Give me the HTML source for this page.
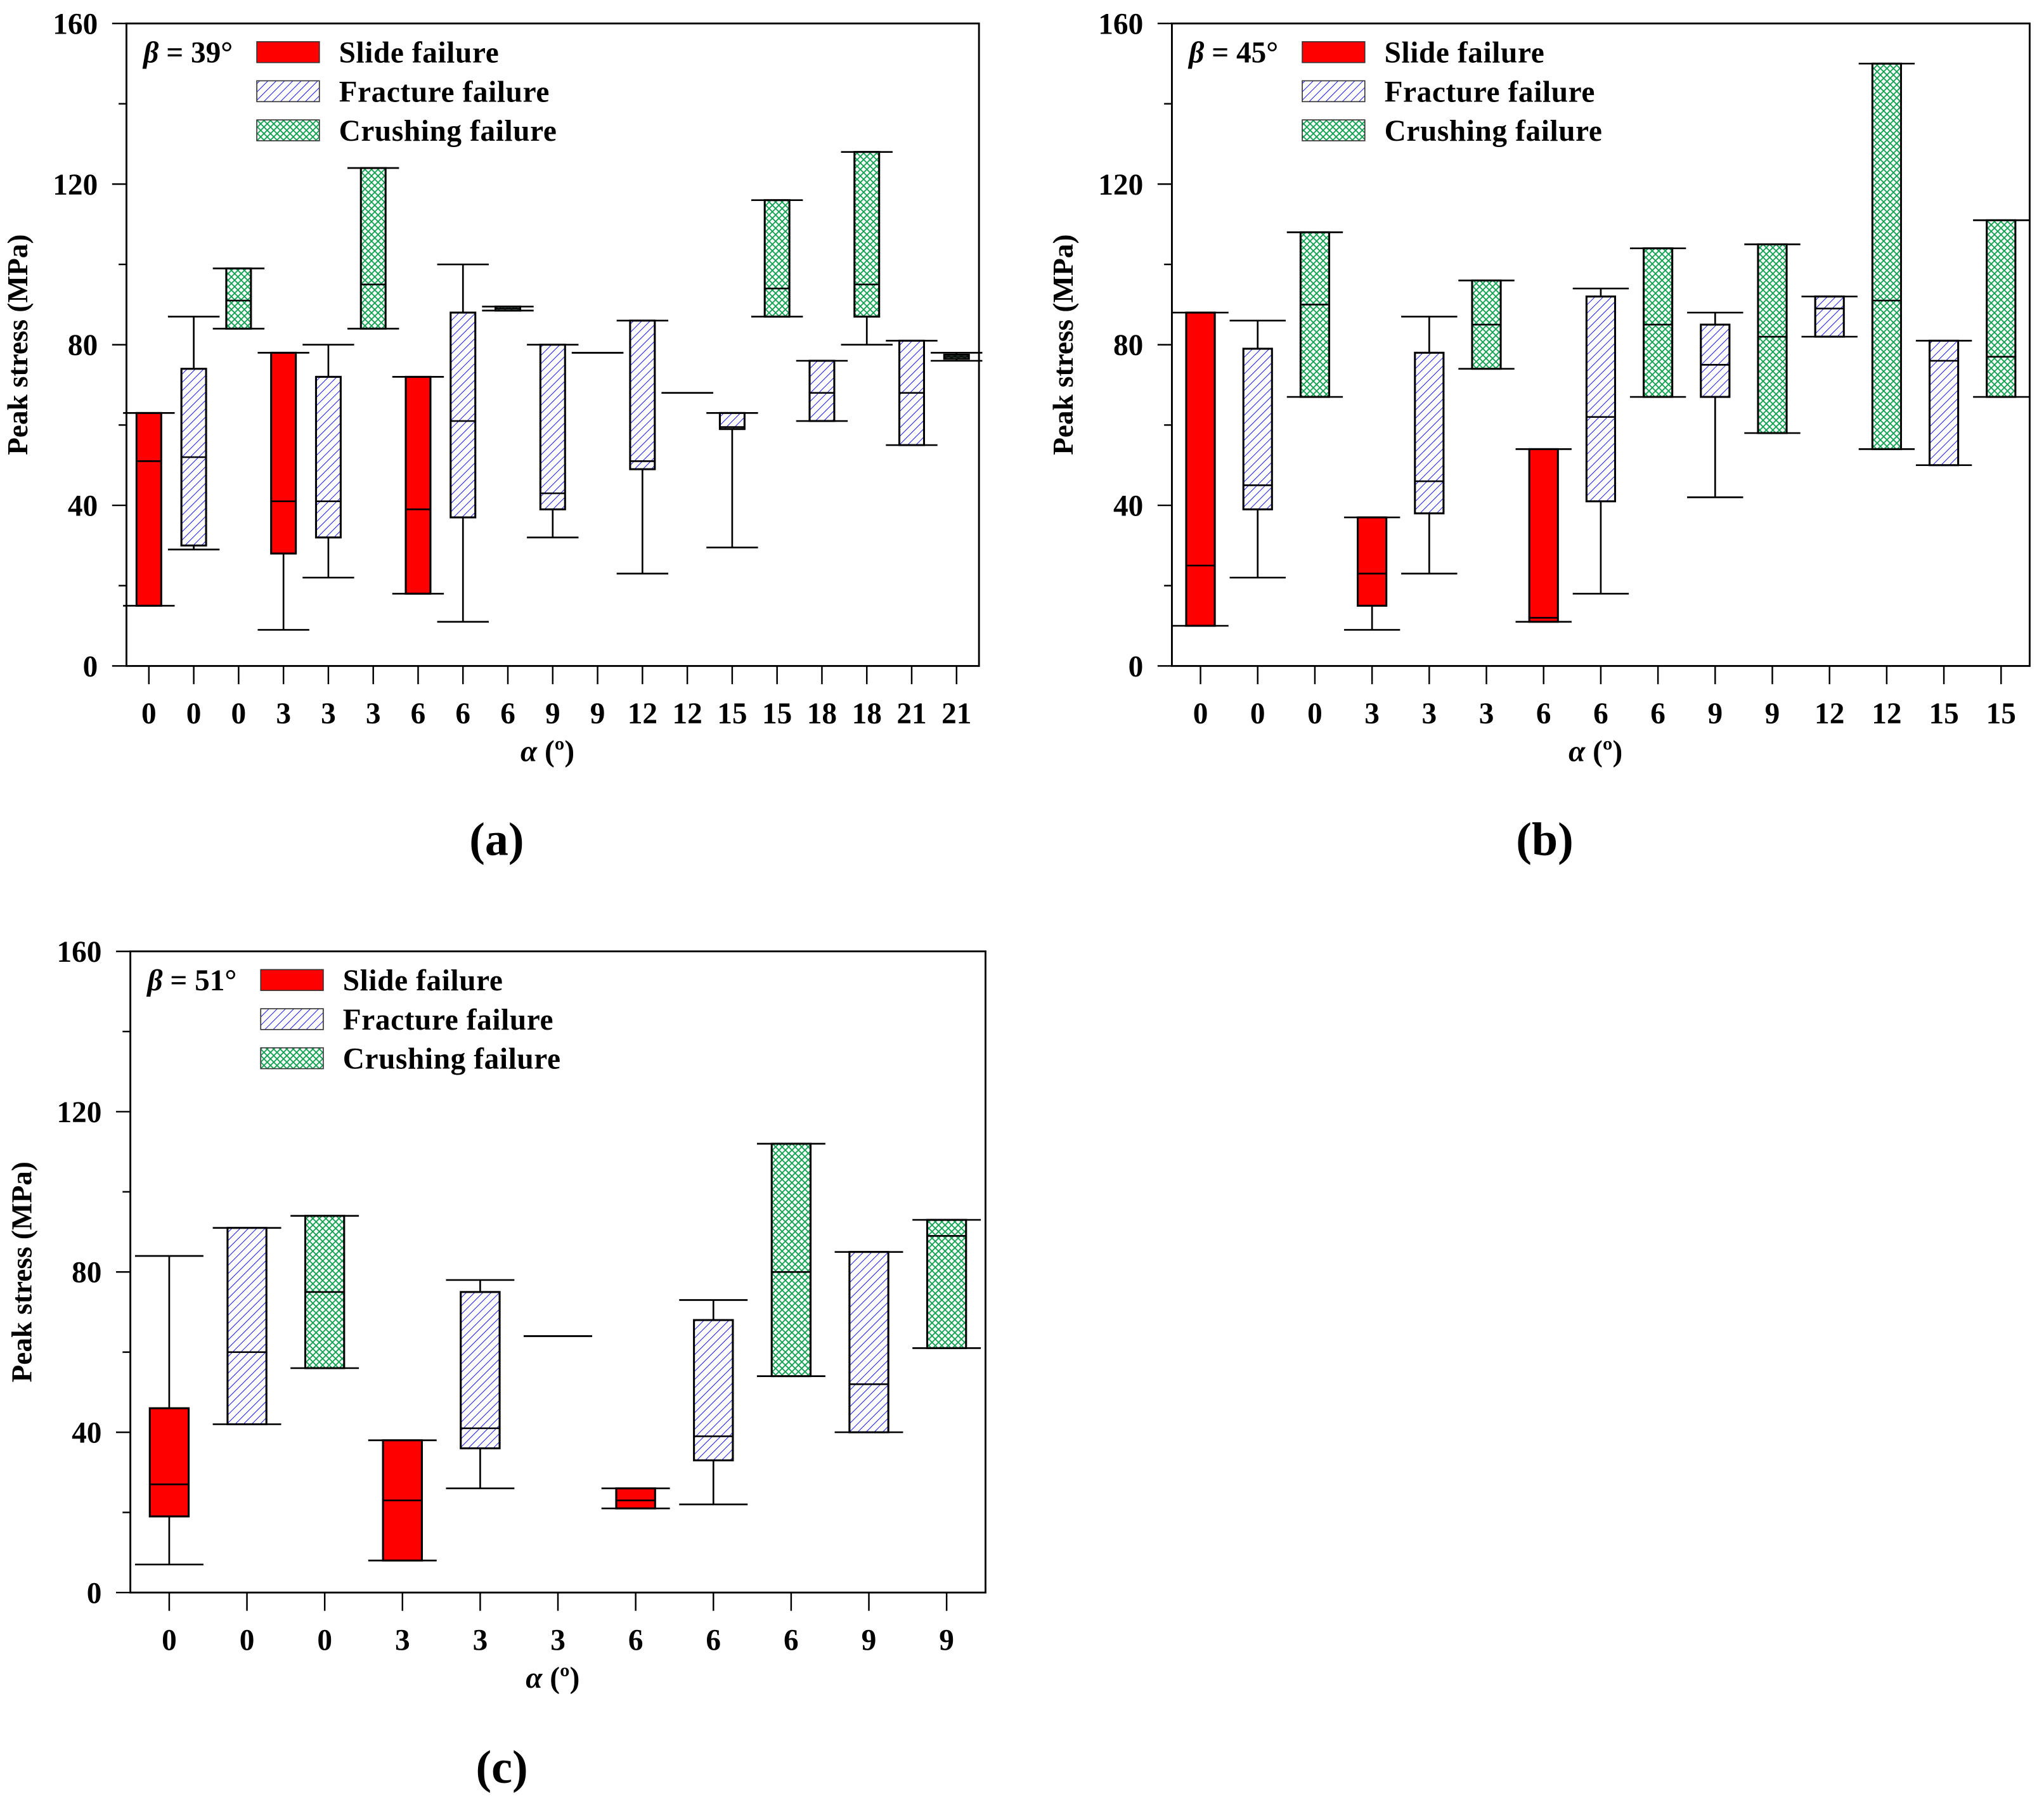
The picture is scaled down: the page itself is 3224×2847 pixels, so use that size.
<!DOCTYPE html>
<html><head><meta charset="utf-8"><style>
html,body{margin:0;padding:0;background:#fff;}
svg{display:block;}
text{font-family:"Liberation Serif",serif;font-weight:bold;fill:#000;}
</style></head>
<body>
<svg id="fig" width="3224" height="2847" viewBox="0 0 1568 1385" preserveAspectRatio="none" xmlns="http://www.w3.org/2000/svg">
<defs>
<pattern id="pFrac" width="4.5" height="4.5" patternUnits="userSpaceOnUse" patternTransform="rotate(45)">
<rect width="4.5" height="4.5" fill="#fff"/><line x1="0" y1="0" x2="0" y2="4.5" stroke="#1a1ae6" stroke-width="1"/>
</pattern>
<pattern id="pCrush" width="5" height="5" patternUnits="userSpaceOnUse">
<rect width="5" height="5" fill="#fff"/>
<path d="M0,0 L5,5 M5,0 L0,5" stroke="#10a050" stroke-width="0.9"/>
</pattern>
</defs>
</svg>
<script>
// ---------- Panel (a): beta = 39 ----------
const catsA = ["0","0","0","3","3","3","6","6","6","9","9","12","12","15","15","18","18","21","21"];
const typeA = ["slide","fracture","crushing","slide","fracture","crushing","slide","fracture","crushing","fracture","fracture","fracture","fracture","fracture","crushing","fracture","crushing","fracture","crushing"];
const minA  = [15,29,84,9,22,84,18,11,88.5,32,78,23,68,29.5,87,61,80,55,76];
const q1A   = [15,30,84,28,32,84,18,37,88.5,39,78,49,68,59,87,61,87,55,76.5];
const medA  = [51,52,91,41,41,95,39,61,89,43,78,51,68,59.5,94,68,95,68,77];
const q3A   = [63,74,99,78,72,124,72,88,89.5,80,78,86,68,63,116,76,128,81,77.5];
const maxA  = [63,87,99,78,80,124,72,100,89.5,80,78,86,68,63,116,76,128,81,78];
// ---------- Panel (b): beta = 45 ----------
const catsB = ["0","0","0","3","3","3","6","6","6","9","9","12","12","15","15"];
const typeB = ["slide","fracture","crushing","slide","fracture","crushing","slide","fracture","crushing","fracture","crushing","fracture","crushing","fracture","crushing"];
const minB  = [10,22,67,9,23,74,11,18,67,42,58,82,54,50,67];
const q1B   = [10,39,67,15,38,74,11,41,67,67,58,82,54,50,67];
const medB  = [25,45,90,23,46,85,12,62,85,75,82,89,91,76,77];
const q3B   = [88,79,108,37,78,96,54,92,104,85,105,92,150,81,111];
const maxB  = [88,86,108,37,87,96,54,94,104,88,105,92,150,81,111];
// ---------- Panel (c): beta = 51 ----------
const catsC = ["0","0","0","3","3","3","6","6","6","9","9"];
const typeC = ["slide","fracture","crushing","slide","fracture","fracture","slide","fracture","crushing","fracture","crushing"];
const minC  = [7,42,56,8,26,64,21,22,54,40,61];
const q1C   = [19,42,56,8,36,64,21,33,54,40,61];
const medC  = [27,60,75,23,41,64,23,39,80,52,89];
const q3C   = [46,91,94,38,75,64,26,68,112,85,93];
const maxC  = [84,91,94,38,78,64,26,73,112,85,93];
const yTicks = [0,40,80,120,160];

const NS="http://www.w3.org/2000/svg";
const svg=document.getElementById('fig');
function mk(tag,attrs,parent){const e=document.createElementNS(NS,tag);for(const k in attrs)e.setAttribute(k,attrs[k]);(parent||svg).appendChild(e);return e;}
const fills={slide:"#ff0000",fracture:"url(#pFrac)",crushing:"url(#pCrush)"};

function panel(cfg){
  const {L,R,T,B,cats,type,mn,q1,md,q3,mx,beta,letter,letterY,boxFrac,capFrac,key}=cfg;
  const g=mk('g',{});
  
  
  const yS=v=>B-(v/160)*(B-T);
  const band=(R-L)/cats.length;
  const xS=i=>L+band*(i+0.5);
  const fr=mk('rect',{x:L,y:T,width:R-L,height:B-T,fill:"none",stroke:"#000","stroke-width":1.4},g);
  
  
  for(let v=0;v<=160;v+=20){
    const major=v%40===0;
    mk('line',{x1:L-(major?11:6),x2:L,y1:yS(v),y2:yS(v),stroke:"#000","stroke-width":1.2},g);
  }
  yTicks.forEach(v=>{
    const t=mk('text',{x:L-22,y:yS(v)+8,"text-anchor":"end","font-size":23},g);
    t.textContent=v;
    
    
  });
  const yt=mk('text',{x:0,y:0,"text-anchor":"middle","font-size":22,transform:`translate(${L-76},${(T+B)/2}) rotate(-90)`},g);
  yt.textContent="Peak stress (MPa)";
  
  
  cats.forEach((c,i)=>{
    mk('line',{x1:xS(i),x2:xS(i),y1:B,y2:B+14,stroke:"#000","stroke-width":1.2},g);
    const t=mk('text',{x:xS(i),y:B+44,"text-anchor":"middle","font-size":23},g);
    t.textContent=c;
    
    
  });
  const xt=mk('text',{x:(L+R)/2-4,y:B+73,"text-anchor":"middle","font-size":23},g);
  xt.innerHTML='<tspan font-style="italic">α</tspan> (º)';
  
  
  const lt=mk('text',{x:(L+R)/2-43,y:letterY,"text-anchor":"middle","font-size":36,"font-weight":"normal"},g);
  lt.innerHTML='(<tspan font-weight="bold">'+letter+'</tspan>)';
  
  
  const bw=band*boxFrac, cw=band*capFrac;
  cats.forEach((c,i)=>{
    const bx=mk('g',{},g);
    
    
    const x=xS(i);
    mk('line',{x1:x,x2:x,y1:yS(mx[i]),y2:yS(q3[i]),stroke:"#000","stroke-width":1.3},bx);
    mk('line',{x1:x,x2:x,y1:yS(q1[i]),y2:yS(mn[i]),stroke:"#000","stroke-width":1.3},bx);
    mk('line',{x1:x-cw/2,x2:x+cw/2,y1:yS(mx[i]),y2:yS(mx[i]),stroke:"#000","stroke-width":1.3},bx);
    mk('line',{x1:x-cw/2,x2:x+cw/2,y1:yS(mn[i]),y2:yS(mn[i]),stroke:"#000","stroke-width":1.3},bx);
    if(q3[i]>q1[i]){
      mk('rect',{x:x-bw/2,y:yS(q3[i]),width:bw,height:yS(q1[i])-yS(q3[i]),fill:fills[type[i]],stroke:"#000","stroke-width":1.5},bx);
      mk('line',{x1:x-bw/2,x2:x+bw/2,y1:yS(md[i]),y2:yS(md[i]),stroke:"#000","stroke-width":1.3},bx);
    }
  });
  const lg=mk('g',{},g);
  
  
  const bt=mk('text',{x:L+13,y:T+30,"font-size":23},lg);
  bt.innerHTML='<tspan font-style="italic">β</tspan> = '+beta+'°';
  
  
  [["slide","Slide failure"],["fracture","Fracture failure"],["crushing","Crushing failure"]].forEach((e,k)=>{
    const y=T+22+k*30;
    const le=mk('g',{},lg);
    
    
    mk('rect',{x:L+100,y:y-8,width:48,height:16,fill:fills[e[0]],stroke:"#333","stroke-width":0.8},le);
    const t=mk('text',{x:L+163,y:y+8,"font-size":23,"letter-spacing":"0.3"},le);
    t.textContent=e[1];
  });
}
panel({L:97,R:751,T:18,B:511,cats:catsA,type:typeA,mn:minA,q1:q1A,md:medA,q3:q3A,mx:maxA,beta:39,letter:"a",letterY:656,boxFrac:0.55,capFrac:1.15,key:"a"});
panel({L:899,R:1557,T:18,B:511,cats:catsB,type:typeB,mn:minB,q1:q1B,md:medB,q3:q3B,mx:maxB,beta:45,letter:"b",letterY:656,boxFrac:0.5,capFrac:0.98,key:"b"});
panel({L:100,R:756,T:730,B:1222,cats:catsC,type:typeC,mn:minC,q1:q1C,md:medC,q3:q3C,mx:maxC,beta:51,letter:"c",letterY:1368,boxFrac:0.5,capFrac:0.88,key:"c"});
</script>
</body></html>
